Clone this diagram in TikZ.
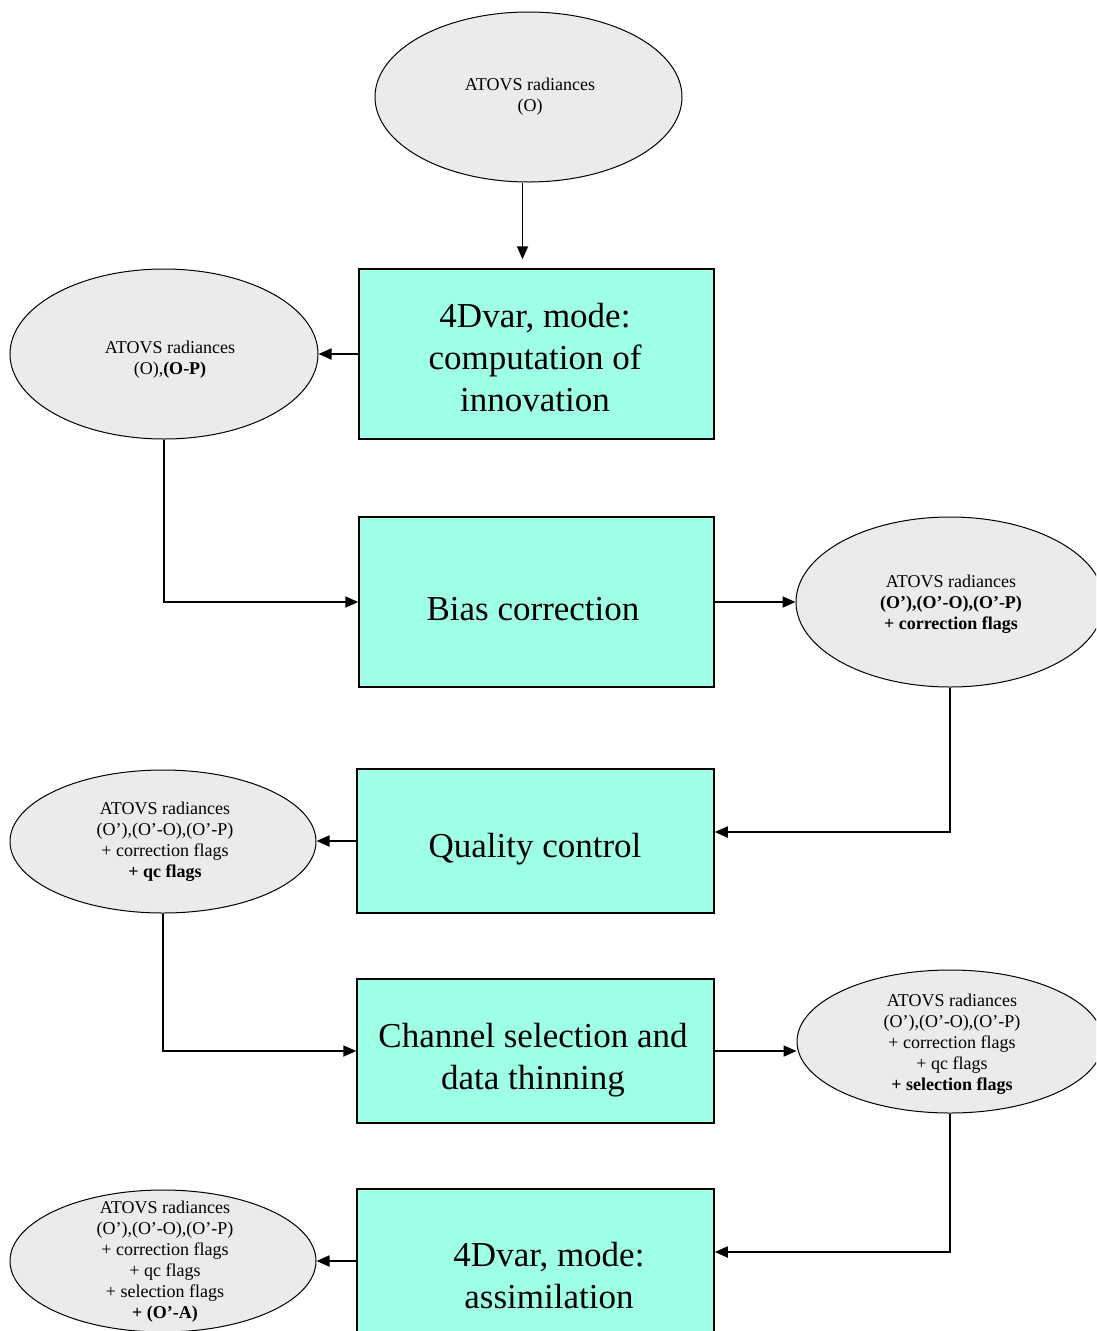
\documentclass[tikz,border=0pt]{standalone}
\usepackage{fontspec}
\setmainfont{Liberation Serif}
\usetikzlibrary{shapes.geometric,arrows.meta}
\definecolor{boxfill}{RGB}{158,255,230}
\definecolor{ellfill}{RGB}{235,235,235}
\tikzset{
  procbox/.style={draw=black, line width=1.5pt, fill=boxfill, rectangle, inner sep=0pt},
  dataell/.style={draw=black, line width=1pt, fill=ellfill, ellipse, inner sep=0pt},
  bigtxt/.style={align=center, inner sep=0pt, font=\fontsize{35}{42}\selectfont},
  smalltxt/.style={align=center, inner sep=0pt, font=\fontsize{18}{21}\selectfont},
  arr/.style={line width=1.8pt, -{Triangle[length=13pt,width=11pt]}},
}
\begin{document}
\begin{tikzpicture}[x=1pt,y=-1pt]
\useasboundingbox (0,0) rectangle (1096,1331);
\begin{scope}
\clip (0,0) rectangle (1096,1331);
% process boxes
\node[procbox, minimum width=355pt, minimum height=170pt] (b1) at (536.5,354) {};
\node[procbox, minimum width=355pt, minimum height=170pt] (b2) at (536.5,602) {};
\node[procbox, minimum width=357pt, minimum height=144pt] (b3) at (535.5,841) {};
\node[procbox, minimum width=357pt, minimum height=144pt] (b4) at (535.5,1051) {};
\node[procbox, minimum width=357pt, minimum height=170pt] (b5) at (535.5,1274) {};
\node[bigtxt] (t1) at (535,358) {4Dvar, mode:\\computation of\\innovation};
\node[bigtxt] (t2) at (533,609) {Bias correction};
\node[bigtxt] (t3) at (535,849) {Quality control};
\node[bigtxt] (t4) at (533,1060) {Channel selection and\\data thinning};
\node[bigtxt] (t5) at (549,1276) {4Dvar, mode:\\assimilation};
% data ellipses
\node[dataell, minimum width=307pt, minimum height=170pt] (e0) at (528.5,97) {};
\node[dataell, minimum width=308pt, minimum height=170pt] (e1) at (164,354) {};
\node[dataell, minimum width=308pt, minimum height=170pt] (e2) at (950,602) {};
\node[dataell, minimum width=306pt, minimum height=143pt] (e3) at (163,841.5) {};
\node[dataell, minimum width=306pt, minimum height=143pt] (e4) at (950,1041.5) {};
\node[dataell, minimum width=306pt, minimum height=142pt] (e5) at (163,1261) {};
\node[smalltxt] (s0) at (530,97) {ATOVS radiances\\(O)};
\node[smalltxt] (s1) at (170,360) {ATOVS radiances\\(O),\textbf{(O-P)}};
\node[smalltxt] (s2) at (951,604) {ATOVS radiances\\\textbf{(O’),(O’-O),(O’-P)}\\\textbf{+ correction flags}};
\node[smalltxt] (s3) at (165,842) {ATOVS radiances\\(O’),(O’-O),(O’-P)\\+ correction flags\\\textbf{+ qc flags}};
\node[smalltxt] (s4) at (952,1044) {ATOVS radiances\\(O’),(O’-O),(O’-P)\\+ correction flags\\+ qc flags\\\textbf{+ selection flags}};
\node[smalltxt] (s5) at (165,1262) {ATOVS radiances\\(O’),(O’-O),(O’-P)\\+ correction flags\\+ qc flags\\+ selection flags\\\textbf{+ (O’-A)}};
% connectors
\draw[arr, shorten >=9pt] ([xshift=-6pt]e0.south) -- ([xshift=-6pt]e0.south |- b1.north);
\draw[arr] (b1.west) -- (b1.west -| e1.east);
\draw[arr] (e1.south) |- (b2.west);
\draw[arr] (b2.east) -- (b2.east -| e2.west);
\draw[arr] (e2.south) |- ([yshift=9pt]b3.east);
\draw[arr] (b3.west) -- (b3.west -| e3.east);
\draw[arr] (e3.south) |- (b4.west);
\draw[arr] (b4.east) -- (b4.east -| e4.west);
\draw[arr] (e4.south) |- ([yshift=22pt]b5.east);
\draw[arr] ([yshift=13pt]b5.west) -- ([yshift=13pt]b5.west -| e5.east);
\end{scope}
\end{tikzpicture}
\end{document}
